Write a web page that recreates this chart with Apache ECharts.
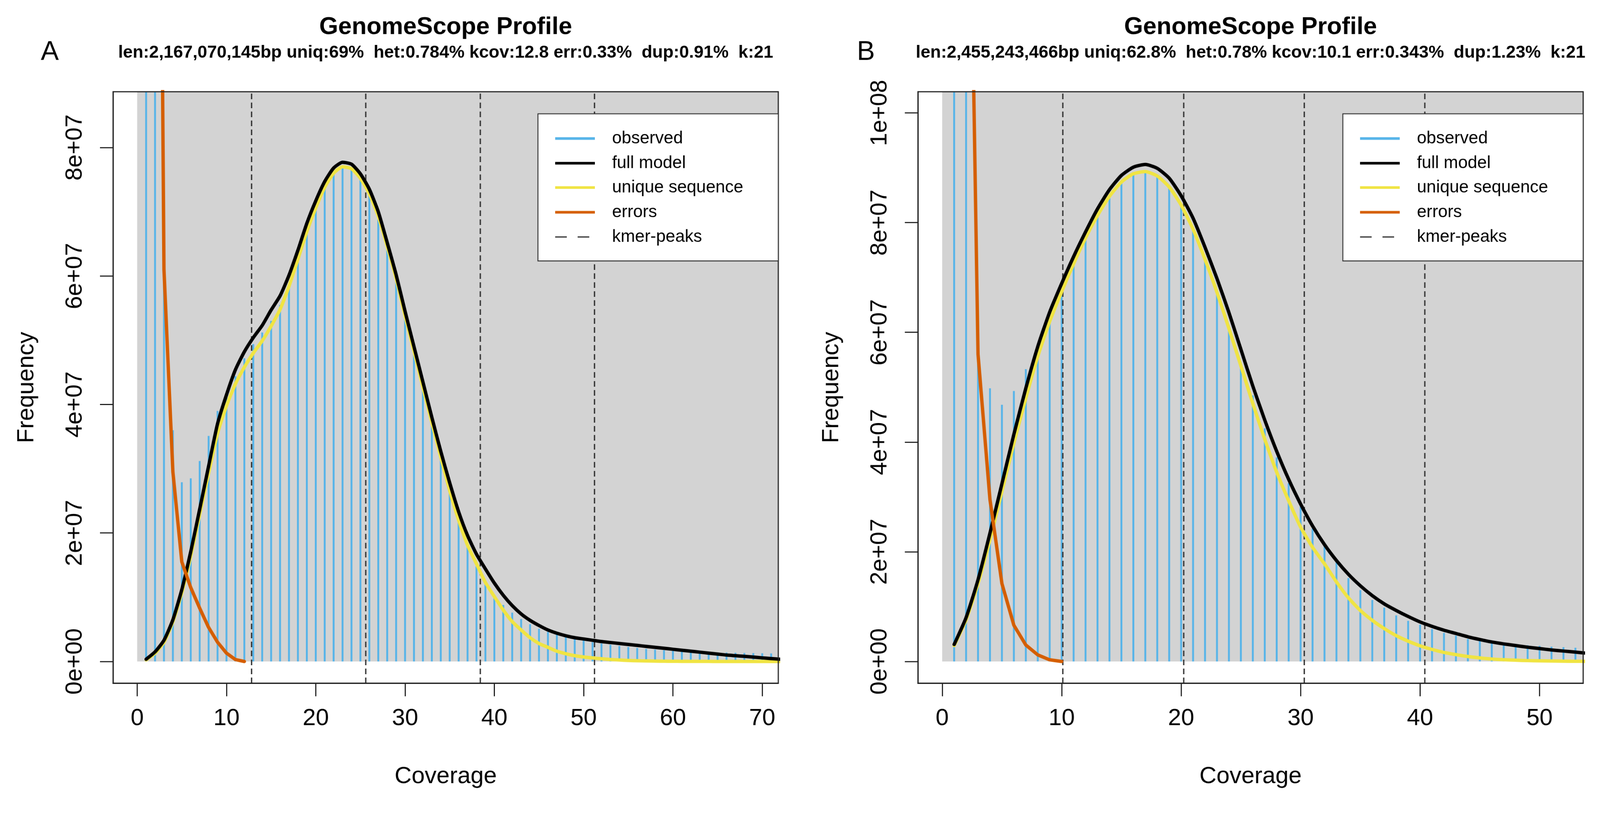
<!DOCTYPE html>
<html>
<head>
<meta charset="utf-8">
<title>GenomeScope Profile</title>
<script src="https://cdn.jsdelivr.net/npm/echarts@6/dist/echarts.min.js"></script>
<style>
html, body { margin: 0; padding: 0; background: #fff; overflow: hidden; }
#chart { width: 4274px; height: 2130px; transform-origin: 0 0; }
</style>
</head>
<body>
<div id="chart"></div>
<script>
// ---- panel A data (coverage starts at 1) ----
var subtitleA = 'len:2,167,070,145bp uniq:69%  het:0.784% kcov:12.8 err:0.33%  dup:0.91%  k:21';
var observedA = [6.1e8, 1.9e8, 6.2e7, 3.6e7, 2.79e7, 2.85e7, 3.12e7, 3.51e7, 3.9e7, 4.15e7,
  4.44e7, 4.72e7, 4.94e7, 5.12e7, 5.3e7, 5.55e7, 5.87e7, 6.25e7, 6.65e7, 7.03e7,
  7.36e7, 7.6e7, 7.71e7, 7.7e7, 7.53e7, 7.25e7, 6.88e7, 6.42e7, 5.93e7, 5.39e7,
  4.82e7, 4.25e7, 3.68e7, 3.13e7, 2.62e7, 2.18e7, 1.79e7, 1.48e7, 1.2e7, 1.03e7,
  8.8e6, 7.6e6, 6.6e6, 5.8e6, 5.1e6, 4.6e6, 4.2e6, 3.9e6, 3.6e6, 3.3e6,
  3.0e6, 2.8e6, 2.6e6, 2.4e6, 2.25e6, 2.1e6, 1.95e6, 1.85e6, 1.75e6, 1.65e6,
  1.6e6, 1.55e6, 1.5e6, 1.45e6, 1.4e6, 1.38e6, 1.35e6, 1.32e6, 1.3e6, 1.28e6,
  1.25e6];
var fullModelA = [3.5e5, 1.5e6, 3.3e6, 6.5e6, 1.12e7, 1.71e7, 2.37e7, 3.04e7, 3.7e7, 4.15e7,
  4.54e7, 4.82e7, 5.04e7, 5.23e7, 5.47e7, 5.69e7, 6.01e7, 6.4e7, 6.82e7, 7.17e7,
  7.47e7, 7.68e7, 7.77e7, 7.74e7, 7.59e7, 7.35e7, 7.0e7, 6.52e7, 6.02e7, 5.45e7,
  4.9e7, 4.35e7, 3.8e7, 3.27e7, 2.78e7, 2.33e7, 1.96e7, 1.67e7, 1.44e7, 1.22e7,
  1.03e7, 8.7e6, 7.4e6, 6.4e6, 5.6e6, 4.9e6, 4.4e6, 4.0e6, 3.7e6, 3.5e6,
  3.3e6, 3.1e6, 2.95e6, 2.8e6, 2.65e6, 2.5e6, 2.35e6, 2.2e6, 2.05e6, 1.9e6,
  1.75e6, 1.6e6, 1.45e6, 1.3e6, 1.15e6, 1.0e6, 9.0e5, 8.0e5, 6.8e5, 5.6e5,
  4.5e5, 3.5e5];
var uniqueA = [2.5e5, 1.3e6, 3.0e6, 6.2e6, 1.07e7, 1.64e7, 2.29e7, 2.93e7, 3.55e7, 3.98e7,
  4.32e7, 4.58e7, 4.8e7, 4.99e7, 5.22e7, 5.48e7, 5.84e7, 6.26e7, 6.69e7, 7.06e7,
  7.38e7, 7.6e7, 7.7e7, 7.67e7, 7.52e7, 7.28e7, 6.93e7, 6.46e7, 5.96e7, 5.38e7,
  4.83e7, 4.27e7, 3.72e7, 3.18e7, 2.66e7, 2.2e7, 1.81e7, 1.52e7, 1.23e7, 1.01e7,
  8.0e6, 6.2e6, 4.9e6, 3.7e6, 2.8e6, 2.2e6, 1.6e6, 1.2e6, 9.0e5, 7.0e5,
  5.5e5, 4.2e5, 3.1e5, 2.3e5, 1.6e5, 1.1e5, 8.0e4, 5.5e4, 4.0e4, 3.0e4,
  2.0e4, 1.5e4, 1.0e4, 7.0e3, 5.0e3, 3.0e3, 2.0e3, 1.0e3, 1.0e3, 0,
  0, 0];
var errorsA = [6.0e8, 2.46e8, 6.1e7, 2.95e7, 1.55e7, 1.15e7, 8.3e6, 5.3e6, 3.0e6, 1.3e6, 3.0e5, 0];
var peaksA = [12.8, 25.6, 38.4, 51.2];
var xTicksA = [0, 10, 20, 30, 40, 50, 60, 70];
var yTicksA = [0, 2e7, 4e7, 6e7, 8e7];

// ---- panel B data ----
var subtitleB = 'len:2,455,243,466bp uniq:62.8%  het:0.78% kcov:10.1 err:0.343%  dup:1.23%  k:21';
var observedB = [6.5e8, 2.1e8, 6.0e7, 4.98e7, 4.68e7, 4.93e7, 5.33e7, 5.75e7, 6.2e7, 6.72e7,
  7.22e7, 7.68e7, 8.1e7, 8.45e7, 8.72e7, 8.87e7, 8.93e7, 8.85e7, 8.66e7, 8.33e7,
  7.9e7, 7.36e7, 6.77e7, 6.12e7, 5.45e7, 4.85e7, 4.25e7, 3.72e7, 3.25e7, 2.82e7,
  2.42e7, 2.1e7, 1.82e7, 1.52e7, 1.3e7, 1.12e7, 9.8e6, 8.4e6, 7.4e6, 6.7e6,
  5.9e6, 5.2e6, 4.7e6, 4.1e6, 3.8e6, 3.4e6, 3.2e6, 3.0e6, 2.95e6, 2.85e6,
  2.7e6, 2.6e6, 2.5e6];
var fullModelB = [3.1e6, 8.0e6, 1.49e7, 2.34e7, 3.24e7, 4.14e7, 4.98e7, 5.74e7, 6.37e7, 6.89e7,
  7.38e7, 7.83e7, 8.25e7, 8.6e7, 8.86e7, 9.01e7, 9.06e7, 8.99e7, 8.81e7, 8.49e7,
  8.08e7, 7.55e7, 6.98e7, 6.36e7, 5.69e7, 5.02e7, 4.4e7, 3.83e7, 3.32e7, 2.87e7,
  2.47e7, 2.13e7, 1.84e7, 1.59e7, 1.38e7, 1.2e7, 1.05e7, 9.3e6, 8.2e6, 7.2e6,
  6.4e6, 5.7e6, 5.1e6, 4.5e6, 4.0e6, 3.55e6, 3.2e6, 2.9e6, 2.6e6, 2.35e6,
  2.1e6, 1.9e6, 1.7e6, 1.5e6];
var uniqueB = [2.9e6, 7.6e6, 1.42e7, 2.22e7, 3.1e7, 3.98e7, 4.8e7, 5.56e7, 6.2e7, 6.74e7,
  7.25e7, 7.72e7, 8.13e7, 8.48e7, 8.74e7, 8.89e7, 8.93e7, 8.85e7, 8.65e7, 8.32e7,
  7.88e7, 7.33e7, 6.73e7, 6.07e7, 5.39e7, 4.7e7, 4.05e7, 3.45e7, 2.93e7, 2.45e7,
  2.08e7, 1.78e7, 1.45e7, 1.16e7, 9.3e6, 7.5e6, 6.0e6, 4.7e6, 3.7e6, 2.85e6,
  2.2e6, 1.65e6, 1.25e6, 9.0e5, 6.5e5, 4.5e5, 3.2e5, 2.3e5, 1.6e5, 1.1e5,
  8.0e4, 5.0e4, 3.0e4, 2.0e4];
var errorsB = [7.5e8, 1.9e8, 5.6e7, 2.95e7, 1.42e7, 6.6e6, 3.0e6, 1.2e6, 3.0e5, 0];
var peaksB = [10.1, 20.2, 30.3, 40.4];
var xTicksB = [0, 10, 20, 30, 40, 50];
var yTicksB = [0, 2e7, 4e7, 6e7, 8e7, 1e8];

var legendLabels = ['observed', 'full model', 'unique sequence', 'errors', 'kmer-peaks'];

// colours as in GenomeScope
var COL_HIST = '#56B4E9', COL_FULL = '#000000', COL_UNIQUE = '#F0E442', COL_ERR = '#D55E00', COL_BG = '#D3D3D3';
var FONT = '"Liberation Sans", Arial, Helvetica, sans-serif';

// layout in reference pixels (page is 4274 x 2130)
var PAGE_W = 4274, PAGE_H = 2130;
var GRID_TOP = 245, GRID_W = 1777, GRID_H = 1580;

var panels = [
  { left: 302, xMin: -2.7, xMax: 71.8, yMin: -3.38e6, yMax: 8.868e7, letter: 'A', letterX: 133,
    subtitle: subtitleA, observed: observedA, full: fullModelA, unique: uniqueA, errors: errorsA,
    peaks: peaksA, xTicks: xTicksA, yTicks: yTicksA },
  { left: 2452, xMin: -2.03, xMax: 53.65, yMin: -3.96e6, yMax: 1.0386e8, letter: 'B', letterX: 2313,
    subtitle: subtitleB, observed: observedB, full: fullModelB, unique: uniqueB, errors: errorsB,
    peaks: peaksB, xTicks: xTicksB, yTicks: yTicksB }
];

function pairs(values) {
  return values.map(function (v, i) { return [i + 1, v]; });
}

// R style 2e+07
function sci(v) {
  if (v === 0) return '0e+00';
  var e = Math.floor(Math.log10(Math.abs(v)) + 1e-9);
  var m = Math.round(v / Math.pow(10, e));
  return m + 'e+' + (e < 10 ? '0' + e : e);
}

var grids = [], xAxes = [], yAxes = [], series = [], titles = [], graphics = [];

panels.forEach(function (p, i) {
  var cx = p.left + GRID_W / 2;
  grids.push({ left: p.left, top: GRID_TOP, width: GRID_W, height: GRID_H, show: false, containLabel: false, outerBoundsMode: 'none' });

  xAxes.push({
    type: 'value', gridIndex: i, min: p.xMin, max: p.xMax,
    axisLine: { show: true, onZero: false, lineStyle: { color: '#222', width: 3 } },
    splitLine: { show: false },
    axisTick: { show: true, length: 35, customValues: p.xTicks, lineStyle: { color: '#222', width: 3 } },
    axisLabel: { customValues: p.xTicks, margin: 63, fontSize: 63, color: '#000', fontFamily: FONT },
    name: 'Coverage', nameLocation: 'middle', nameGap: 218,
    nameTextStyle: { fontSize: 63, color: '#000', fontFamily: FONT }
  });
  yAxes.push({
    type: 'value', gridIndex: i, min: p.yMin, max: p.yMax,
    axisLine: { show: true, onZero: false, lineStyle: { color: '#222', width: 3 } },
    splitLine: { show: false },
    axisTick: { show: true, length: 35, customValues: p.yTicks, lineStyle: { color: '#222', width: 3 } },
    axisLabel: { customValues: p.yTicks, rotate: 90, margin: 70, fontSize: 63, color: '#000', fontFamily: FONT, formatter: sci },
    name: 'Frequency', nameLocation: 'middle', nameGap: 199,
    nameTextStyle: { fontSize: 63, color: '#000', fontFamily: FONT }
  });

  series.push({
    type: 'bar', name: 'observed', xAxisIndex: i, yAxisIndex: i,
    data: pairs(p.observed), barWidth: 5, itemStyle: { color: COL_HIST }, z: 2, clip: true, silent: true,
    markArea: { silent: true, itemStyle: { color: COL_BG }, data: [[{ coord: [0, 0] }, { coord: [p.xMax, p.yMax] }]] },
    markLine: {
      silent: true, symbol: ['none', 'none'], label: { show: false }, emphasis: { disabled: true },
      lineStyle: { color: '#333', width: 3.5, type: [15, 9] },
      data: p.peaks.map(function (v) { return { xAxis: v }; })
    }
  });
  // model curves: unique sequence under the full model, errors on top (left unsmoothed, it runs off the top)
  [[p.unique, COL_UNIQUE, 'unique sequence', 6, 0.2], [p.full, COL_FULL, 'full model', 7, 0.2], [p.errors, COL_ERR, 'errors', 8, false]].forEach(function (s) {
    series.push({
      type: 'line', name: s[2], xAxisIndex: i, yAxisIndex: i, data: pairs(s[0]),
      symbol: 'none', showSymbol: false, clip: true, silent: true, z: s[3], smooth: s[4],
      lineStyle: { color: s[1], width: 9, cap: 'round', join: 'round' }
    });
  });

  titles.push({ text: 'GenomeScope Profile', left: cx, top: 73, textAlign: 'center', textVerticalAlign: 'middle', padding: 0,
    textStyle: { fontSize: 65, fontWeight: 'bold', color: '#000', fontFamily: FONT } });
  titles.push({ text: p.subtitle, left: cx, top: 141, textAlign: 'center', textVerticalAlign: 'middle', padding: 0,
    textStyle: { fontSize: 46.5, fontWeight: 'bold', color: '#000', fontFamily: FONT } });
  titles.push({ text: p.letter, left: p.letterX, top: 140, textAlign: 'center', textVerticalAlign: 'middle', padding: 0,
    textStyle: { fontSize: 72, fontWeight: 'normal', color: '#000', fontFamily: FONT } });

  // plot box
  graphics.push({ type: 'rect', z: 100, silent: true,
    shape: { x: p.left, y: GRID_TOP, width: GRID_W, height: GRID_H },
    style: { fill: 'none', stroke: '#222', lineWidth: 3 } });

  // legend box, top right
  var lw = 642, lh = 393, lx = p.left + GRID_W - lw, ly = 304;
  var rows = [66, 132, 197, 263, 329];
  var cols = [COL_HIST, COL_FULL, COL_UNIQUE, COL_ERR, '#222'];
  graphics.push({ type: 'rect', z: 100, silent: true,
    shape: { x: lx, y: ly, width: lw, height: lh },
    style: { fill: '#fff', stroke: '#333', lineWidth: 2.5 } });
  legendLabels.forEach(function (lab, k) {
    var dashed = k === 4;
    graphics.push({ type: 'line', z: 101, silent: true,
      shape: { x1: lx + 46, y1: ly + rows[k], x2: lx + (dashed ? 137 : 152), y2: ly + rows[k] },
      style: { stroke: cols[k], lineWidth: dashed ? 3 : 7, lineDash: dashed ? [31, 29] : null } });
    graphics.push({ type: 'text', z: 101, silent: true,
      style: { x: lx + 198, y: ly + rows[k], text: lab, fill: '#000', font: '46px ' + FONT, verticalAlign: 'middle', align: 'left' } });
  });
});

// the viewport may be smaller than 4274 css px (device pixel ratio), so scale the whole figure to fit
var el = document.getElementById('chart');
var fit = Math.min(window.innerWidth / PAGE_W, window.innerHeight / PAGE_H);
if (fit > 0 && Math.abs(fit - 1) > 0.001) el.style.transform = 'scale(' + fit + ')';

var chart = echarts.init(el, null, { width: PAGE_W, height: PAGE_H });
chart.setOption({
  animation: false,
  backgroundColor: '#fff',
  title: titles,
  grid: grids,
  xAxis: xAxes,
  yAxis: yAxes,
  series: series,
  graphic: graphics
});
</script>
</body>
</html>
